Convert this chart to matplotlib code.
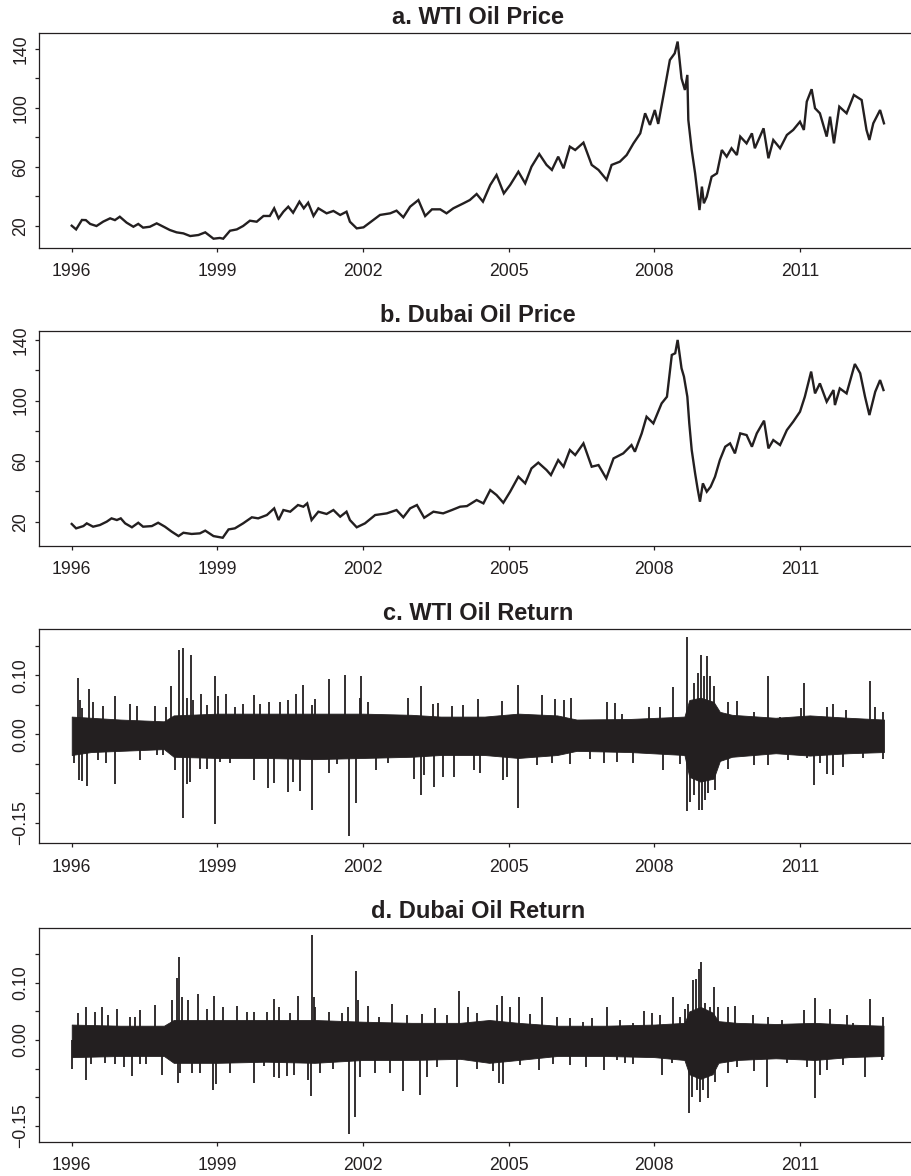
import numpy as np
import matplotlib
matplotlib.use("Agg")
import matplotlib.pyplot as plt

# ---------------------------------------------------------------------------
# Daily crude oil series, 1996 - 2012 (decimal years)
# ---------------------------------------------------------------------------
wti_t = [1996.00, 1996.09, 1996.21, 1996.29, 1996.38, 1996.51, 1996.65, 1996.79, 1996.89, 1996.99,
         1997.13, 1997.27, 1997.37, 1997.47, 1997.61, 1997.75, 1997.89, 1998.02, 1998.16, 1998.30,
         1998.44, 1998.61, 1998.75, 1998.92, 1999.05, 1999.12, 1999.26, 1999.40, 1999.53, 1999.67,
         1999.81, 1999.95, 2000.08, 2000.17, 2000.26, 2000.36, 2000.46, 2000.56, 2000.69, 2000.78,
         2000.87, 2000.98, 2001.08, 2001.25, 2001.39, 2001.53, 2001.66, 2001.73, 2001.87, 2002.01,
         2002.14, 2002.35, 2002.56, 2002.69, 2002.83, 2002.97, 2003.14, 2003.28, 2003.42, 2003.59,
         2003.72, 2003.86, 2004.07, 2004.20, 2004.34, 2004.47, 2004.62, 2004.75, 2004.90, 2005.03,
         2005.20, 2005.34, 2005.47, 2005.63, 2005.78, 2005.89, 2006.02, 2006.13, 2006.26, 2006.37,
         2006.54, 2006.71, 2006.85, 2007.02, 2007.12, 2007.29, 2007.43, 2007.57, 2007.71, 2007.81,
         2007.91, 2008.01, 2008.08, 2008.19, 2008.32, 2008.42, 2008.48, 2008.56, 2008.63, 2008.68,
         2008.70, 2008.77, 2008.84, 2008.93, 2008.98, 2009.02, 2009.08, 2009.18, 2009.29, 2009.39,
         2009.49, 2009.59, 2009.70, 2009.77, 2009.90, 2010.01, 2010.07, 2010.25, 2010.35, 2010.45,
         2010.59, 2010.73, 2010.86, 2011.00, 2011.08, 2011.14, 2011.24, 2011.31, 2011.41, 2011.55,
         2011.62, 2011.70, 2011.81, 2011.96, 2012.11, 2012.27, 2012.37, 2012.43, 2012.51, 2012.65,
         2012.73]
wti_price = [20.2, 17.7, 24.1, 24.0, 21.4, 20.0, 23.0, 25.2, 24.0, 26.3,
             22.3, 19.5, 21.4, 18.9, 19.5, 21.8, 19.5, 17.3, 15.7, 15.0,
             13.2, 13.9, 15.7, 11.4, 11.9, 11.4, 16.8, 17.7, 20.0, 23.6,
             22.9, 26.8, 26.8, 32.0, 25.2, 29.7, 33.1, 29.0, 36.5, 32.0,
             35.8, 26.8, 32.0, 28.6, 30.2, 27.5, 29.7, 22.9, 18.4, 19.1,
             22.3, 27.5, 28.6, 30.4, 25.9, 33.1, 37.6, 26.8, 31.3, 31.3,
             28.6, 32.0, 35.4, 37.6, 41.7, 36.5, 47.8, 54.6, 42.1, 47.8,
             56.8, 48.9, 60.2, 68.8, 61.4, 58.0, 67.0, 59.1, 73.8, 71.5,
             76.5, 61.4, 58.0, 51.2, 61.4, 63.6, 68.1, 76.0, 82.8, 96.4,
             88.5, 98.6, 89.2, 108.8, 132.5, 137.0, 145.0, 120.0, 112.2, 122.4,
             91.9, 71.5, 55.7, 30.8, 46.7, 35.4, 39.9, 53.4, 55.7, 71.5,
             67.0, 72.7, 68.1, 80.6, 76.0, 82.8, 72.7, 86.2, 65.9, 78.3,
             72.7, 81.7, 85.1, 90.7, 85.1, 104.3, 112.7, 99.8, 96.4, 80.6,
             94.1, 76.0, 100.9, 96.4, 108.8, 105.4, 85.1, 78.3, 89.6, 98.6,
             89.6]

dubai_t = [1996.00, 1996.09, 1996.24, 1996.31, 1996.44, 1996.58, 1996.72, 1996.82, 1996.93, 1997.01,
           1997.10, 1997.24, 1997.37, 1997.47, 1997.65, 1997.78, 1997.92, 1998.06, 1998.20, 1998.30,
           1998.47, 1998.64, 1998.75, 1998.92, 1999.11, 1999.23, 1999.36, 1999.53, 1999.71, 1999.84,
           2000.02, 2000.17, 2000.26, 2000.36, 2000.50, 2000.66, 2000.77, 2000.85, 2000.94, 2001.08,
           2001.25, 2001.39, 2001.53, 2001.66, 2001.73, 2001.87, 2002.04, 2002.25, 2002.49, 2002.69,
           2002.83, 2002.97, 2003.11, 2003.26, 2003.45, 2003.65, 2003.83, 2004.00, 2004.14, 2004.34,
           2004.48, 2004.62, 2004.75, 2004.89, 2005.03, 2005.20, 2005.34, 2005.47, 2005.61, 2005.78,
           2005.87, 2006.02, 2006.13, 2006.26, 2006.37, 2006.54, 2006.71, 2006.85, 2007.01, 2007.16,
           2007.36, 2007.53, 2007.60, 2007.74, 2007.84, 2007.98, 2008.15, 2008.26, 2008.36, 2008.43,
           2008.48, 2008.56, 2008.61, 2008.68, 2008.72, 2008.77, 2008.84, 2008.89, 2008.94, 2009.00,
           2009.08, 2009.16, 2009.25, 2009.35, 2009.46, 2009.56, 2009.66, 2009.77, 2009.90, 2010.01,
           2010.11, 2010.26, 2010.35, 2010.45, 2010.59, 2010.73, 2010.86, 2011.00, 2011.10, 2011.23,
           2011.31, 2011.41, 2011.55, 2011.69, 2011.72, 2011.82, 2011.96, 2012.13, 2012.24, 2012.34,
           2012.43, 2012.55, 2012.65, 2012.72]
dubai_price = [18.5, 15.6, 17.1, 18.9, 16.7, 17.8, 20.0, 22.2, 21.1, 22.2,
               18.9, 16.3, 19.3, 16.7, 17.1, 19.3, 16.7, 13.4, 10.5, 12.7,
               11.9, 12.3, 14.1, 10.5, 9.4, 14.9, 15.6, 18.9, 22.9, 22.2,
               24.4, 28.8, 21.1, 27.7, 26.6, 31.0, 29.9, 32.1, 21.1, 26.6,
               25.1, 27.7, 23.3, 26.6, 21.1, 16.3, 18.9, 24.4, 25.5, 27.7,
               22.9, 28.8, 31.0, 22.6, 26.6, 25.5, 27.7, 29.9, 30.3, 34.3,
               32.1, 40.9, 37.6, 32.5, 39.8, 49.7, 45.3, 55.2, 59.0, 54.1,
               50.8, 60.7, 56.3, 67.3, 64.0, 71.7, 56.3, 57.4, 48.6, 61.8,
               65.1, 70.6, 66.2, 78.3, 89.3, 84.9, 98.1, 102.5, 130.1, 131.2,
               140.0, 121.3, 115.8, 102.5, 84.9, 67.3, 51.9, 42.0, 33.2, 45.3,
               39.8, 43.1, 49.7, 60.7, 69.5, 71.7, 65.1, 78.3, 77.2, 69.5,
               78.3, 86.7, 68.4, 73.9, 70.6, 80.5, 86.0, 92.6, 102.5, 119.1,
               104.7, 111.3, 99.2, 106.9, 97.0, 108.0, 104.7, 124.1, 118.0, 102.5,
               90.4, 105.8, 113.5, 106.9]

# Log returns: bulk daily range (band) and the individual large moves
wti_band_t = [1996.00, 1996.40, 1997.00, 1997.90, 1998.10, 1999.00, 2000.00, 2001.00, 2002.00,
              2003.00, 2003.60, 2004.50, 2005.20, 2006.00, 2006.40, 2007.50, 2008.62, 2008.72,
              2008.95, 2009.22, 2009.35, 2009.60, 2010.50, 2011.20, 2012.00, 2012.73]
wti_band_hi = [0.030, 0.028, 0.025, 0.022, 0.032, 0.035, 0.035, 0.035, 0.035,
               0.033, 0.030, 0.030, 0.035, 0.032, 0.025, 0.026, 0.030, 0.058,
               0.062, 0.055, 0.038, 0.033, 0.028, 0.032, 0.028, 0.025]
wti_band_lo = [-0.035, -0.030, -0.028, -0.025, -0.038, -0.040, -0.040, -0.042, -0.040,
               -0.038, -0.035, -0.035, -0.040, -0.035, -0.028, -0.030, -0.035, -0.072,
               -0.080, -0.075, -0.045, -0.038, -0.032, -0.036, -0.032, -0.030]

wti_jump_t = [1996.13, 1996.17, 1996.21, 1996.36, 1996.44, 1996.65, 1996.89, 1997.19, 1997.34, 1997.72,
              1997.94, 1998.05, 1998.21, 1998.29, 1998.37, 1998.46, 1998.50, 1998.66, 1998.79, 1998.95,
              1999.02, 1999.18, 1999.36, 1999.53, 1999.75, 1999.87, 2000.06, 2000.28, 2000.45, 2000.61,
              2000.76, 2000.94, 2001.01, 2001.30, 2001.63, 2001.94, 2001.96, 2002.11, 2002.92, 2003.19,
              2003.45, 2003.55, 2003.83, 2004.05, 2004.37, 2004.86, 2005.20, 2005.68, 2005.95, 2006.13,
              2006.28, 2007.02, 2007.18, 2007.33, 2007.90, 2008.12, 2008.39, 2008.68, 2008.82, 2008.89,
              2008.96, 2009.02, 2009.09, 2009.15, 2009.22, 2009.52, 2009.70, 2010.06, 2010.35, 2010.59,
              2011.02, 2011.09, 2011.55, 2011.69, 2011.94, 2012.44, 2012.55, 2012.72,
              1996.05, 1996.14, 1996.21, 1996.31, 1996.55, 1996.71, 1996.89, 1997.41, 1997.75, 1997.89,
              1998.13, 1998.29, 1998.37, 1998.44, 1998.64, 1998.79, 1998.95, 1999.05, 1999.26, 1999.75,
              2000.05, 2000.17, 2000.46, 2000.56, 2000.70, 2000.94, 2001.29, 2001.46, 2001.71, 2001.85,
              2002.27, 2002.52, 2003.06, 2003.19, 2003.26, 2003.46, 2003.65, 2003.87, 2004.29, 2004.41,
              2004.89, 2004.96, 2005.20, 2005.59, 2005.89, 2006.26, 2006.68, 2006.96, 2007.23, 2007.56,
              2008.17, 2008.53, 2008.68, 2008.74, 2008.82, 2008.91, 2008.98, 2009.04, 2009.11, 2009.25,
              2009.52, 2010.05, 2010.35, 2010.76, 2011.15, 2011.29, 2011.41, 2011.55, 2011.67, 2011.89,
              2012.30, 2012.70]
wti_jump_r = [0.096, 0.058, 0.044, 0.077, 0.055, 0.048, 0.065, 0.052, 0.048, 0.048,
              0.047, 0.081, 0.143, 0.146, 0.061, 0.134, 0.058, 0.069, 0.050, 0.099,
              0.064, 0.068, 0.047, 0.052, 0.067, 0.052, 0.054, 0.055, 0.058, 0.068,
              0.083, 0.050, 0.060, 0.094, 0.100, 0.061, 0.099, 0.054, 0.061, 0.082,
              0.052, 0.053, 0.048, 0.050, 0.059, 0.056, 0.084, 0.067, 0.059, 0.058,
              0.061, 0.055, 0.053, 0.035, 0.047, 0.047, 0.080, 0.164, 0.086, 0.103,
              0.135, 0.099, 0.133, 0.098, 0.082, 0.054, 0.057, 0.038, 0.099, 0.030,
              0.044, 0.086, 0.047, 0.051, 0.041, 0.091, 0.047, 0.038,
              -0.049, -0.077, -0.079, -0.087, -0.043, -0.049, -0.084, -0.044, -0.035, -0.035,
              -0.060, -0.142, -0.084, -0.080, -0.058, -0.058, -0.152, -0.047, -0.048, -0.077,
              -0.091, -0.083, -0.098, -0.080, -0.096, -0.128, -0.066, -0.050, -0.172, -0.116,
              -0.060, -0.048, -0.076, -0.103, -0.069, -0.089, -0.072, -0.073, -0.060, -0.066,
              -0.077, -0.072, -0.125, -0.052, -0.049, -0.050, -0.041, -0.048, -0.046, -0.048,
              -0.060, -0.050, -0.129, -0.114, -0.103, -0.128, -0.128, -0.111, -0.100, -0.095,
              -0.059, -0.052, -0.052, -0.043, -0.040, -0.086, -0.048, -0.067, -0.069, -0.055,
              -0.040, -0.042]

dubai_band_t = [1996.00, 1997.00, 1997.90, 1998.10, 1999.00, 2000.00, 2001.00, 2002.00, 2003.00,
                2004.00, 2004.60, 2005.20, 2006.00, 2007.00, 2008.00, 2008.62, 2008.72, 2008.95,
                2009.20, 2009.32, 2009.70, 2010.50, 2011.30, 2012.00, 2012.72]
dubai_band_hi = [0.027, 0.025, 0.025, 0.035, 0.035, 0.035, 0.035, 0.032, 0.030,
                 0.030, 0.035, 0.030, 0.025, 0.025, 0.027, 0.030, 0.050, 0.058,
                 0.048, 0.033, 0.030, 0.028, 0.030, 0.027, 0.025]
dubai_band_lo = [-0.030, -0.028, -0.028, -0.040, -0.040, -0.038, -0.040, -0.035, -0.035,
                 -0.033, -0.040, -0.035, -0.028, -0.028, -0.030, -0.035, -0.060, -0.068,
                 -0.060, -0.040, -0.035, -0.032, -0.035, -0.030, -0.028]

dubai_jump_t = [1996.12, 1996.29, 1996.47, 1996.62, 1996.75, 1996.94, 1997.19, 1997.30, 1997.41, 1997.72,
                1998.06, 1998.16, 1998.21, 1998.28, 1998.40, 1998.61, 1998.78, 1998.94, 1999.12, 1999.40,
                1999.60, 1999.75, 2000.02, 2000.17, 2000.26, 2000.50, 2000.66, 2000.94, 2001.00, 2001.01,
                2001.29, 2001.56, 2001.70, 2001.86, 2001.90, 2002.11, 2002.32, 2002.59, 2002.90, 2003.21,
                2003.48, 2003.72, 2003.98, 2004.17, 2004.34, 2004.75, 2004.86, 2005.03, 2005.21, 2005.44,
                2005.68, 2005.99, 2006.26, 2006.54, 2006.71, 2007.02, 2007.29, 2007.57, 2007.79, 2007.95,
                2008.12, 2008.39, 2008.53, 2008.63, 2008.70, 2008.79, 2008.85, 2008.91, 2008.96, 2009.04,
                2009.15, 2009.22, 2009.32, 2009.52, 2009.66, 2010.04, 2010.35, 2010.62, 2011.08, 2011.31,
                2011.62, 2011.96, 2012.10, 2012.44, 2012.72,
                1996.00, 1996.29, 1996.39, 1996.69, 1996.89, 1997.08, 1997.25, 1997.41, 1997.53, 1997.85,
                1998.18, 1998.23, 1998.47, 1998.64, 1998.92, 1998.97, 1999.26, 1999.75, 1999.95, 2000.17,
                2000.26, 2000.44, 2000.58, 2000.87, 2000.93, 2001.11, 2001.39, 2001.71, 2001.84, 2001.94,
                2002.25, 2002.56, 2002.82, 2003.17, 2003.31, 2003.52, 2003.93, 2004.34, 2004.68, 2004.81,
                2004.89, 2005.23, 2005.63, 2005.92, 2006.26, 2006.60, 2006.96, 2007.23, 2007.40, 2007.57,
                2008.15, 2008.36, 2008.53, 2008.72, 2008.77, 2008.87, 2008.94, 2009.01, 2009.11, 2009.25,
                2009.52, 2009.70, 2010.05, 2010.33, 2010.73, 2011.14, 2011.30, 2011.41, 2011.55, 2011.89,
                2012.33, 2012.68]
dubai_jump_r = [0.047, 0.058, 0.049, 0.057, 0.044, 0.055, 0.041, 0.041, 0.053, 0.062,
                0.070, 0.108, 0.145, 0.076, 0.070, 0.080, 0.055, 0.077, 0.058, 0.060,
                0.049, 0.049, 0.049, 0.071, 0.058, 0.047, 0.077, 0.183, 0.075, 0.058,
                0.049, 0.047, 0.058, 0.120, 0.070, 0.060, 0.041, 0.063, 0.044, 0.046,
                0.056, 0.044, 0.085, 0.058, 0.047, 0.061, 0.077, 0.058, 0.075, 0.045,
                0.075, 0.040, 0.039, 0.032, 0.038, 0.057, 0.035, 0.029, 0.050, 0.047,
                0.044, 0.076, 0.041, 0.055, 0.063, 0.105, 0.106, 0.124, 0.136, 0.065,
                0.058, 0.092, 0.058, 0.058, 0.060, 0.044, 0.041, 0.035, 0.052, 0.073,
                0.055, 0.044, 0.029, 0.072, 0.041,
                -0.051, -0.070, -0.042, -0.041, -0.042, -0.048, -0.063, -0.042, -0.042, -0.061,
                -0.076, -0.058, -0.057, -0.057, -0.088, -0.077, -0.058, -0.076, -0.046, -0.065,
                -0.067, -0.063, -0.061, -0.070, -0.098, -0.058, -0.050, -0.1645, -0.135, -0.064,
                -0.058, -0.058, -0.090, -0.096, -0.064, -0.047, -0.082, -0.050, -0.055, -0.075,
                -0.077, -0.044, -0.053, -0.042, -0.044, -0.047, -0.053, -0.035, -0.041, -0.042,
                -0.061, -0.041, -0.029, -0.127, -0.100, -0.088, -0.108, -0.088, -0.102, -0.073,
                -0.058, -0.047, -0.055, -0.082, -0.041, -0.047, -0.102, -0.061, -0.053, -0.044,
                -0.064, -0.035]

year_ticks = [1996, 1999, 2002, 2005, 2008, 2011]
price_ticks = [20, 40, 60, 80, 100, 120, 140]
price_labels = ["20", "", "60", "", "100", "", "140"]
return_ticks = [-0.15, -0.10, -0.05, 0.00, 0.05, 0.10, 0.15]
return_labels = ["\u22120.15", "", "", "0.00", "", "0.10", ""]

titles = ["a. WTI Oil Price", "b. Dubai Oil Price", "c. WTI Oil Return", "d. Dubai Oil Return"]

# ---------------------------------------------------------------------------
INK = "#231f20"
plt.rcParams["font.family"] = ["Liberation Sans", "DejaVu Sans"]

W, H = 912, 1176
fig = plt.figure(figsize=(W / 100, H / 100), dpi=100)
fig.patch.set_facecolor("white")

X_LEFT, X_RIGHT = 39.2, 916.5
XLIM = (1995.33, 2013.40)
panel_rows = [(33.3, 247.7), (331.3, 545.7), (629.3, 843.3), (927.7, 1141.7)]
ylims = [(5.3, 150.6), (4.15, 145.7), (-0.1844, 0.1777), (-0.178, 0.1965)]


def make_axes(top, bottom):
    return fig.add_axes([X_LEFT / W, 1 - bottom / H, (X_RIGHT - X_LEFT) / W, (bottom - top) / H])


def style(ax, title, ylim, yticks, ylabels):
    ax.set_xlim(*XLIM)
    ax.set_ylim(*ylim)
    ax.set_xticks(year_ticks)
    ax.set_xticklabels([str(y) for y in year_ticks])
    ax.set_yticks(yticks)
    ax.set_yticklabels(ylabels, rotation=90, va="center")
    ax.tick_params(axis="x", direction="out", length=3.1, width=0.9, color=INK,
                   labelsize=12.7, labelcolor=INK, pad=8.0)
    ax.tick_params(axis="y", direction="out", length=3.1, width=0.9, color=INK,
                   labelsize=12.7, labelcolor=INK, pad=4.0)
    for s in ax.spines.values():
        s.set_linewidth(0.9)
        s.set_color(INK)
    ax.set_title(title, fontsize=17, fontweight="bold", color=INK, pad=7)


# price panels
for (top, bottom), t, p, title, ylim in zip(panel_rows[:2], [wti_t, dubai_t],
                                            [wti_price, dubai_price], titles[:2], ylims[:2]):
    ax = make_axes(top, bottom)
    ax.plot(t, p, color=INK, lw=1.7, solid_joinstyle="miter")
    style(ax, title, ylim, price_ticks, price_labels)

# return panels
for (top, bottom), bt, bhi, blo, jt, jr, title, ylim in zip(
        panel_rows[2:],
        [wti_band_t, dubai_band_t], [wti_band_hi, dubai_band_hi], [wti_band_lo, dubai_band_lo],
        [wti_jump_t, dubai_jump_t], [wti_jump_r, dubai_jump_r],
        titles[2:], ylims[2:]):
    ax = make_axes(top, bottom)
    ax.fill_between(bt, blo, bhi, color=INK, lw=0.6, edgecolor=INK)
    ax.vlines(jt, 0, jr, color=INK, lw=1.3)
    style(ax, title, ylim, return_ticks, return_labels)

fig.savefig("out.png", dpi=100, facecolor="white")
